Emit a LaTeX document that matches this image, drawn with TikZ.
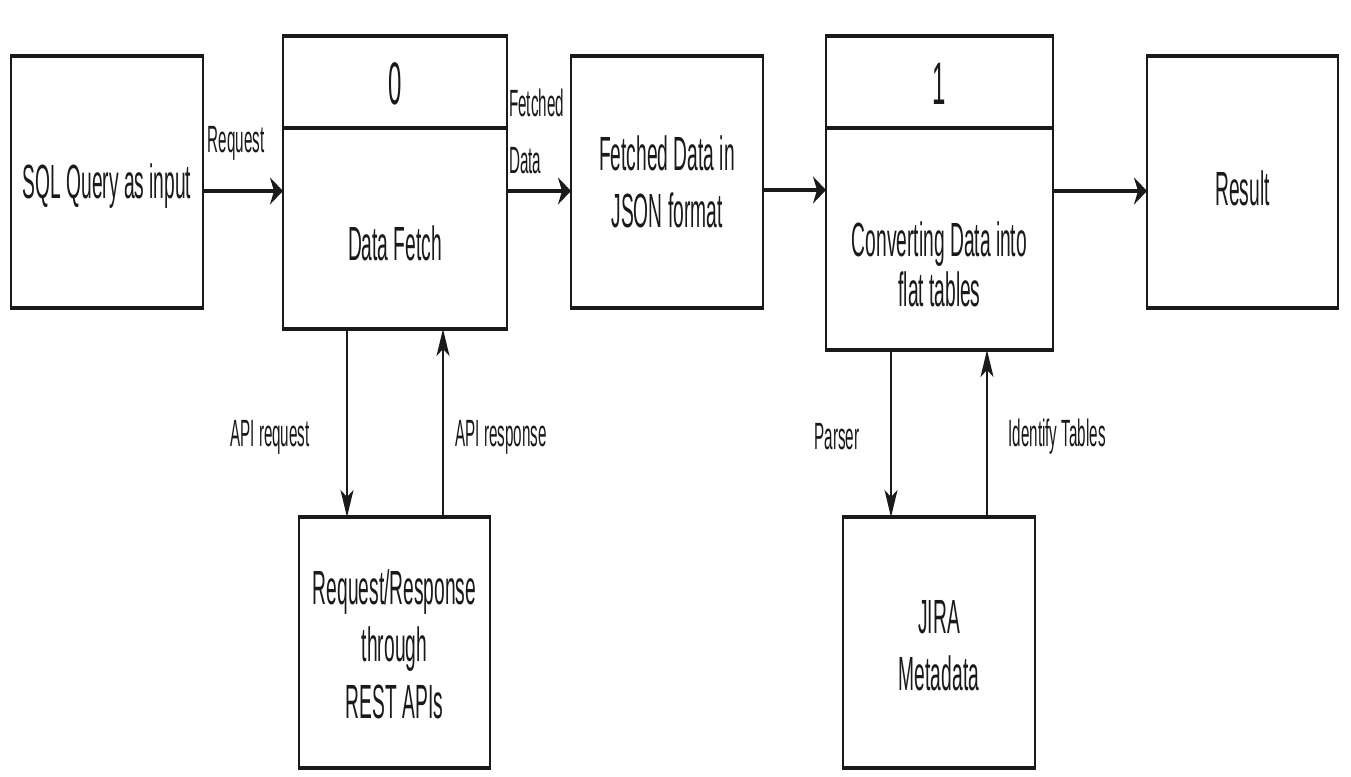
\documentclass[tikz,border=0pt]{standalone}
\usepackage{fontspec}
\setmainfont{Liberation Sans}[FakeStretch=0.40]
\usetikzlibrary{arrows.meta,calc}
\definecolor{ink}{HTML}{1A1A1A}
\tikzset{
  box/.style={draw=ink, line width=2pt, outer sep=0pt, inner sep=0pt},
  hline/.style={draw=ink, line width=4pt, shorten <=-1pt, shorten >=-1pt},
  harr/.style={draw=ink, line width=3.4pt, -{Stealth[length=13pt,width=27pt,inset=4pt]}},
  varr/.style={draw=ink, line width=1.8pt, -{Stealth[length=27pt,width=13pt,inset=7pt]}},
  txt/.style={text=ink, align=center, inner sep=0pt, font=\fontsize{48}{57}\selectfont},
  lbl/.style={text=ink, inner sep=0pt, font=\fontsize{38}{57}\selectfont},
  num/.style={text=ink, inner sep=0pt, font=\fontsize{60}{60}\selectfont}
}
\begin{document}
\begin{tikzpicture}[x=1pt,y=-1pt]
\useasboundingbox[fill=white] (0,0) rectangle (1351,776);
% boxes
\node[box, minimum width=192pt, minimum height=252pt] (sql) at (107,182) {};
\node[box, minimum width=224pt, minimum height=293pt] (fetch) at (395,182.5) {};
\node[box, minimum width=192pt, minimum height=252pt] (json) at (667,182) {};
\node[box, minimum width=227pt, minimum height=314pt] (conv) at (939.5,193) {};
\node[box, minimum width=191pt, minimum height=252pt] (result) at (1242.5,182) {};
\node[box, minimum width=191pt, minimum height=251pt] (rest) at (394.5,642.5) {};
\node[box, minimum width=192pt, minimum height=251pt] (jira) at (939,642.5) {};
% thick horizontal edges
\foreach \n in {sql,fetch,json,conv,result,rest,jira}{
  \draw[hline] (\n.north west) -- (\n.north east);
  \draw[hline] (\n.south west) -- (\n.south east);
}
\coordinate (fdiv) at (395,128);
\coordinate (cdiv) at (939.5,128);
\draw[hline] (fetch.west |- fdiv) -- (fetch.east |- fdiv);
\draw[hline] (conv.west |- cdiv) -- (conv.east |- cdiv);
% texts
\node[txt] (tsql) at (107,186) {SQL Query as input};
\node[num] (t0) at (395,84) {0};
\node[txt] (tfetch) at (395,243) {Data Fetch};
\node[txt] (tjson) at (667,182) {Fetched Data in\\JSON format};
\node[num] (t1) at (939.5,84) {1};
\node[txt, font=\fontsize{48}{50}\selectfont] (tconv) at (939.5,264) {Converting Data into\\flat tables};
\node[txt] (tresult) at (1242.5,188) {Result};
\node[txt] (trest) at (394.5,644) {Request/Response\\through\\REST APIs};
\node[txt] (tjira) at (939,646) {JIRA\\Metadata};
% labels
\node[lbl] (lreq) at (236,143) {Request};
\node[lbl, align=left, anchor=west] (lfd) at (509,131) {Fetched\\Data};
\node[lbl] (lapireq) at (270,437) {API request};
\node[lbl] (lapires) at (501,437) {API response};
\node[lbl] (lparser) at (837,437) {Parser};
\node[lbl] (lident) at (1057,437) {Identify Tables};
% horizontal arrows
\draw[harr] ([yshift=-9pt]sql.east) -- ([yshift=-9pt]sql.east -| fetch.west);
\draw[harr] ([yshift=-8.5pt]fetch.east) -- ([yshift=-8.5pt]fetch.east -| json.west);
\draw[harr] ([yshift=-8pt]json.east) -- ([yshift=-8pt]json.east -| conv.west);
\draw[harr] ([yshift=-9pt]conv.east |- result.east) -- ([yshift=-9pt]result.west);
% vertical arrows
\draw[varr] ([xshift=-48pt]fetch.south) -- ([xshift=-48pt]fetch.south |- rest.north);
\draw[varr] ([xshift=48.5pt]rest.north) -- ([xshift=48.5pt]rest.north |- fetch.south);
\draw[varr] ([xshift=-48.5pt]conv.south) -- ([xshift=-48.5pt]conv.south |- jira.north);
\draw[varr] ([xshift=48pt]jira.north) -- ([xshift=48pt]jira.north |- conv.south);
\end{tikzpicture}
\end{document}
